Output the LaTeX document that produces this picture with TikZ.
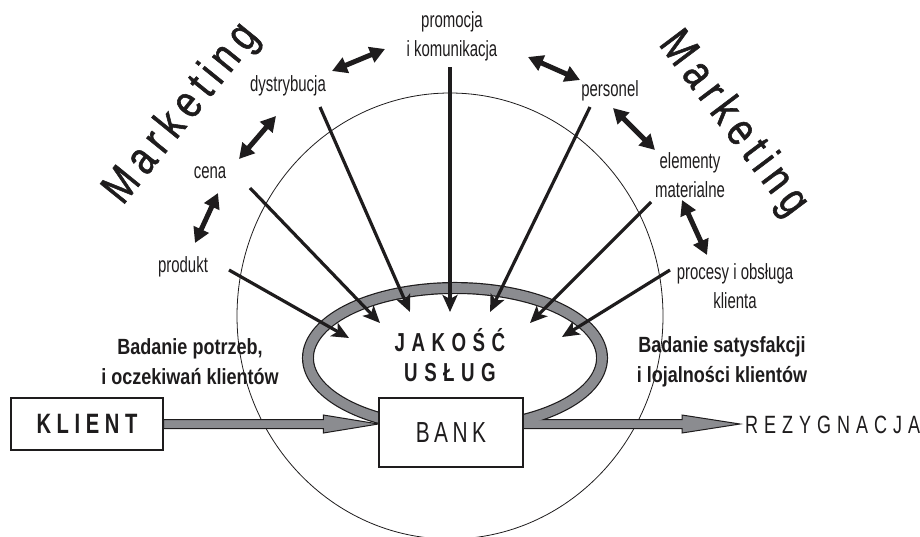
\documentclass[tikz,border=0pt]{standalone}
\usepackage{fontspec}
\setmainfont{Liberation Sans}
\newfontfamily\labfont[FakeStretch=0.68]{Liberation Sans}
\newfontfamily\boldfont[FakeStretch=0.82]{Liberation Sans}
\newfontfamily\capfont[FakeStretch=0.72]{Liberation Sans}
\newfontfamily\mktfont[FakeStretch=0.8,FakeBold=1.2]{Liberation Sans}
\usetikzlibrary{arrows.meta,calc}
\definecolor{bandgray}{RGB}{139,140,144}
\definecolor{ink}{RGB}{30,28,29}
\pgfdeclarelayer{bg}
\pgfsetlayers{bg,main}
\makeatletter
\def\lspaced#1#2{\def\lsp@k{\kern#1\relax}\lsp@a#2\@nil}
\def\lsp@a#1{#1\lsp@b}
\def\lsp@b#1{\ifx#1\@nil\else\lsp@k#1\expandafter\lsp@b\fi}
\makeatother
\begin{document}
\begin{tikzpicture}[x=1pt,y=-1pt,
 lab/.style={inner sep=0pt, font=\labfont\fontsize{22}{29}\selectfont, align=center, text=ink},
 boldlab/.style={inner sep=0pt, font=\boldfont\bfseries\fontsize{22}{30}\selectfont, align=center, text=ink},
 dbl/.style={draw=ink, line width=5pt, {Triangle[length=15pt,width=16pt]}-{Triangle[length=15pt,width=16pt]}},
 spoke/.style={draw=ink, line width=3.2pt, -{Stealth[length=17pt,width=15pt,inset=4pt]}},
 box/.style={draw=ink, line width=1.2pt, fill=white, inner sep=0pt},
 shaft/.style={fill=bandgray, draw=ink, line width=1pt, line join=miter},
 mkt/.style={inner sep=0pt, font=\mktfont\fontsize{46}{46}\selectfont, text=ink}
]
\useasboundingbox (0,0) rectangle (920,536);

% ---------- nodes ----------
\node[mkt, rotate=51] (mktL) at (182,114) {\lspaced{7pt}{Marketing}};
\node[mkt, rotate=-53] (mktR) at (733,124) {\lspaced{7pt}{Marketing}};

\node[lab] (promocja) at (452,36) {promocja\\i komunikacja};
\node[lab] (dystrybucja) at (288,86) {dystrybucja};
\node[lab] (cena) at (210,173) {cena};
\node[lab] (produkt) at (183,267) {produkt};
\node[lab] (personel) at (610,91) {personel};
\node[lab] (elementy) at (690,175) {elementy\\materialne};
\node[lab] (procesy) at (735,286) {procesy i obsługa\\klienta};

\node[boldlab] (badL) at (190,362) {Badanie potrzeb,\\i oczekiwań klientów};
\node[boldlab] (badR) at (722,362) {Badanie satysfakcji\\i lojalności klientów};

\node[inner sep=0pt, align=center, text=ink, font=\capfont\bfseries\fontsize{26}{30}\selectfont] (jakosc) at (450,355) {\lspaced{6.5pt}{JAKOŚĆ}\\\lspaced{6.5pt}{USŁUG}};

\node[box, minimum width=152pt, minimum height=52pt, text=ink, font=\capfont\bfseries\fontsize{28}{28}\selectfont] (klient) at (87,424) {\lspaced{5.6pt}{KLIENT}};
\node[box, minimum width=144pt, minimum height=69pt, text=ink, font=\capfont\fontsize{29}{29}\selectfont] (bank) at (451,432.5) {\lspaced{4.5pt}{BANK}};
\node[inner sep=0pt, anchor=west, text=ink, font=\capfont\fontsize{25}{25}\selectfont] (rez) at (745,425) {\lspaced{6pt}{REZYGNACJA}};

% ---------- coordinates ----------
\coordinate (ktip) at (bank.west |- klient.east);
\coordinate (bstart) at (bank.east |- klient.east);
\coordinate (rtip) at (740,424);

\coordinate (pc1) at (195,243); \coordinate (pc2) at (218,193);
\coordinate (cd1) at (239,159); \coordinate (cd2) at (276,116);
\coordinate (dp1) at (332,71);  \coordinate (dp2) at (385,49);
\coordinate (pp1) at (528,57);  \coordinate (pp2) at (580,80);
\coordinate (pe1) at (613,108); \coordinate (pe2) at (655,150);
\coordinate (ep1) at (682,200); \coordinate (ep2) at (707,255);

\coordinate (produkt-out) at (229,270);     \coordinate (produkt-in) at (349,338);
\coordinate (cena-out) at (250,188);        \coordinate (cena-in) at (380,323);
\coordinate (dystrybucja-out) at (320,107); \coordinate (dystrybucja-in) at (410,312);
\coordinate (promocja-out) at (450,67);     \coordinate (promocja-in) at (450,312);
\coordinate (personel-out) at (590,107);    \coordinate (personel-in) at (490,312);
\coordinate (elementy-out) at (651,202);    \coordinate (elementy-in) at (530,323);
\coordinate (procesy-out) at (670,270);     \coordinate (procesy-in) at (562,337);

% ---------- background drawing ----------
\begin{pgfonlayer}{bg}
\clip (0,0) rectangle (920,536);
\draw[ink, line width=0.8pt] (450,316) ellipse [x radius=213, y radius=223];

% loop band (outline)
\draw[ink, line width=12pt] (455,358) ++(110:147 and 70) arc[start angle=110, end angle=430, x radius=147, y radius=70];

% KLIENT -> BANK arrow
\filldraw[shaft] ($(klient.east)+(0,-4.5)$) -- ($(ktip)+(-55,-4.5)$) -- ($(ktip)+(-55,-9)$) -- (ktip)
  -- ($(ktip)+(-55,9)$) -- ($(ktip)+(-55,4.5)$) -- ($(klient.east)+(0,4.5)$) -- cycle;
% BANK -> REZYGNACJA arrow
\filldraw[shaft] ($(bstart)+(-10,-4.5)$) -- ($(rtip)+(-58,-4.5)$) -- ($(rtip)+(-58,-9)$) -- (rtip)
  -- ($(rtip)+(-58,9)$) -- ($(rtip)+(-58,4.5)$) -- ($(bstart)+(-10,4.5)$) -- cycle;

% loop band (gray interior)
\draw[bandgray, line width=9.6pt] (455,358) ++(110:147 and 70) arc[start angle=110, end angle=430, x radius=147, y radius=70];

% double arrows between the marketing mix elements
\draw[dbl] (pc1) -- (pc2);
\draw[dbl] (cd1) -- (cd2);
\draw[dbl] (dp1) -- (dp2);
\draw[dbl] (pp1) -- (pp2);
\draw[dbl] (pe1) -- (pe2);
\draw[dbl] (ep1) -- (ep2);

% spokes into service quality
\draw[spoke] (produkt-out) -- (produkt-in);
\draw[spoke] (cena-out) -- (cena-in);
\draw[spoke] (dystrybucja-out) -- (dystrybucja-in);
\draw[spoke] (promocja-out) -- (promocja-in);
\draw[spoke] (personel-out) -- (personel-in);
\draw[spoke] (elementy-out) -- (elementy-in);
\draw[spoke] (procesy-out) -- (procesy-in);
\end{pgfonlayer}
\end{tikzpicture}
\end{document}
